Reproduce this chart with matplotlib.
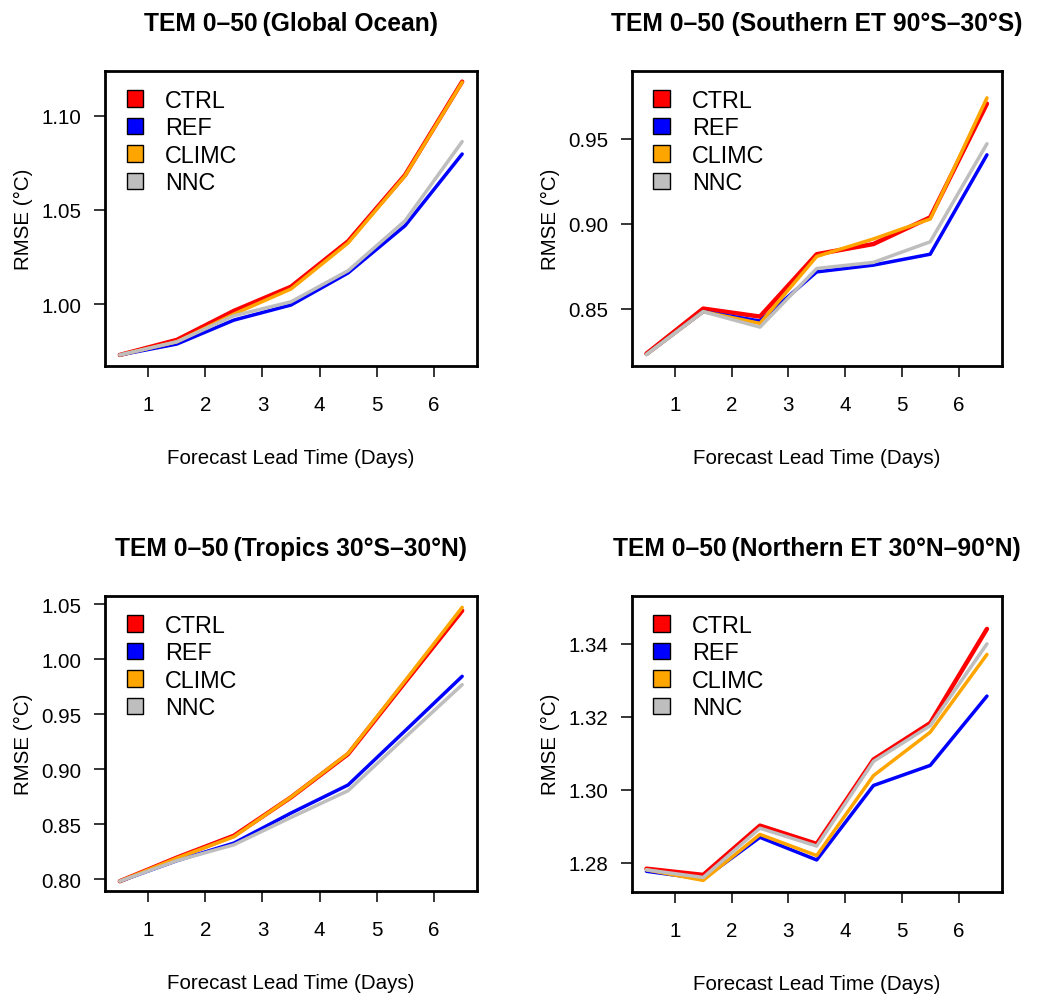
import matplotlib
matplotlib.use("Agg")
import matplotlib.pyplot as plt
from matplotlib.patches import Patch

plt.rcParams['font.family'] = ['Liberation Sans', 'DejaVu Sans']

lead = [0.5, 1.5, 2.5, 3.5, 4.5, 5.5, 6.5]
names = ['CTRL', 'REF', 'CLIMC', 'NNC']
colours = ['#FF0000', '#0000FF', '#FFA500', '#BEBEBE']

# Global Ocean
glob_ctrl = [0.973, 0.981, 0.9964, 1.0092, 1.0333, 1.0685, 1.118]
glob_ref = [0.973, 0.9788, 0.9915, 0.9995, 1.0165, 1.0416, 1.0796]
glob_climc = [0.973, 0.980, 0.9947, 1.008, 1.0324, 1.0681, 1.1177]
glob_nnc = [0.973, 0.980, 0.9938, 1.0012, 1.0177, 1.0442, 1.0862]

# Southern ET
south_ctrl = [0.8235, 0.850, 0.8453, 0.882, 0.888, 0.9037, 0.9706]
south_ref = [0.823, 0.8482, 0.8427, 0.8716, 0.8756, 0.882, 0.9405]
south_climc = [0.823, 0.8482, 0.8413, 0.8807, 0.891, 0.9027, 0.974]
south_nnc = [0.823, 0.8482, 0.8391, 0.8736, 0.8772, 0.8893, 0.947]

# Tropics
trop_ctrl = [0.798, 0.8195, 0.8394, 0.8743, 0.9136, 0.979, 1.044]
trop_ref = [0.798, 0.8167, 0.8327, 0.860, 0.8855, 0.9348, 0.9843]
trop_climc = [0.798, 0.819, 0.8385, 0.8745, 0.9142, 0.9803, 1.047]
trop_nnc = [0.798, 0.8167, 0.8312, 0.856, 0.8803, 0.9288, 0.9767]

# Northern ET
north_ctrl = [1.2784, 1.2767, 1.2902, 1.2852, 1.3083, 1.3183, 1.3441]
north_ref = [1.2777, 1.2756, 1.287, 1.2808, 1.3012, 1.3067, 1.3257]
north_climc = [1.2781, 1.2752, 1.2878, 1.282, 1.3039, 1.3158, 1.3371]
north_nnc = [1.2781, 1.276, 1.2895, 1.2846, 1.3078, 1.3176, 1.340]

panels = [
    ('TEM 0\u201350\u2009(Global Ocean)', [glob_ctrl, glob_ref, glob_climc, glob_nnc],
     [1.00, 1.05, 1.10], (0.9673, 1.1238), (105, 71.7, 372, 295)),
    ('TEM 0\u201350 (Southern ET 90\u00b0S\u201330\u00b0S)', [south_ctrl, south_ref, south_climc, south_nnc],
     [0.85, 0.90, 0.95], (0.8161, 0.990), (631.7, 71.7, 370, 295.5)),
    ('TEM 0\u201350\u2009(Tropics 30\u00b0S\u201330\u00b0N)', [trop_ctrl, trop_ref, trop_climc, trop_nnc],
     [0.80, 0.85, 0.90, 0.95, 1.00, 1.05], (0.7894, 1.0576), (105, 596.7, 372, 295)),
    ('TEM 0\u201350\u2009(Northern ET 30\u00b0N\u201390\u00b0N)', [north_ctrl, north_ref, north_climc, north_nnc],
     [1.28, 1.30, 1.32, 1.34], (1.2721, 1.3532), (631.7, 596.7, 370, 296)),
]

W, H = 1040, 1003
fig = plt.figure(figsize=(W / 100, H / 100), dpi=100)

for title, series, yticks, ylim, (px, py, pw, ph) in panels:
    ax = fig.add_axes([px / W, 1 - (py + ph) / H, pw / W, ph / H])
    for i, vals in enumerate(series):
        lw = 3.2 if i == 0 else 2.5
        ax.plot(lead, vals, color=colours[i], lw=lw, solid_capstyle='round')
    ax.set_xlim(0.24, 6.76)
    ax.set_ylim(*ylim)
    ax.set_xticks([1, 2, 3, 4, 5, 6])
    ax.set_yticks(yticks)
    ax.set_yticklabels(['%.2f' % t for t in yticks])
    ax.tick_params(direction='out', length=8, width=1.1, labelsize=14.8)
    ax.tick_params(axis='x', pad=13)
    ax.tick_params(axis='y', pad=9)
    for s in ax.spines.values():
        s.set_linewidth(2.0)
    ax.set_title(title, fontsize=17.7, fontweight='bold', pad=29.6)
    ax.set_xlabel('Forecast Lead Time (Days)', fontsize=14.8, labelpad=24.5)
    ax.set_ylabel('RMSE (\u00b0C)', fontsize=14.8, labelpad=6)
    handles = [Patch(facecolor=c, edgecolor='black', lw=1.0) for c in colours]
    ax.legend(handles, names, loc='upper left', frameon=False, fontsize=16.8,
              bbox_to_anchor=(21.7 / pw, 1 - 18 / ph), borderpad=0, borderaxespad=0,
              handlelength=0.71, handleheight=0.71, handletextpad=0.93, labelspacing=0.19)

fig.savefig('out.png', dpi=100)
